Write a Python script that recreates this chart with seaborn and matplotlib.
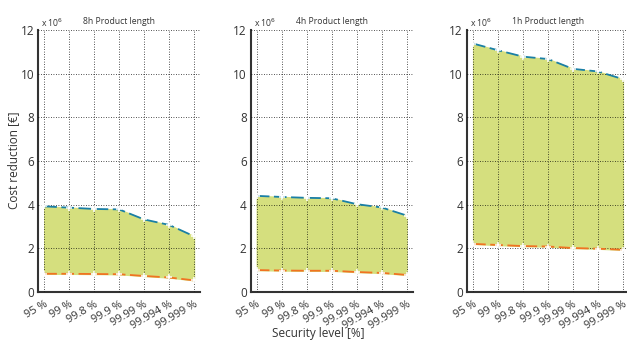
import matplotlib
matplotlib.use("Agg")
import matplotlib.pyplot as plt
import matplotlib.transforms as mtransforms
import seaborn as sns
import numpy as np

levels = ["95 %", "99 %", "99.8 %", "99.9 %", "99.99 %", "99.994 %", "99.999 %"]
titles = ["8h Product length", "4h Product length", "1h Product length"]

# values in 1e6 EUR
upper_8h = [3.92, 3.86, 3.80, 3.78, 3.32, 3.07, 2.55]
lower_8h = [0.83, 0.83, 0.82, 0.81, 0.73, 0.66, 0.53]
upper_4h = [4.40, 4.35, 4.31, 4.29, 4.02, 3.87, 3.50]
lower_4h = [1.00, 0.98, 0.97, 0.97, 0.91, 0.87, 0.78]
upper_1h = [11.38, 11.07, 10.78, 10.67, 10.22, 10.10, 9.75]
lower_1h = [2.20, 2.15, 2.10, 2.08, 2.01, 1.98, 1.93]

uppers = [upper_8h, upper_4h, upper_1h]
lowers = [lower_8h, lower_4h, lower_1h]

sns.set_style("white")
plt.rcParams["font.family"] = ["Open Sans", "DejaVu Sans"]

fig = plt.figure(figsize=(6.27, 3.41), dpi=100)
lefts = [0.061, 0.400, 0.745]
x = np.arange(len(levels))
# nudge rotated tick labels a bit to the right, like the original
shift = mtransforms.ScaledTranslation(5 / 100, 0, fig.dpi_scale_trans)

for i, left in enumerate(lefts):
    ax = fig.add_axes([left, 0.144, 0.258, 0.768])
    ax.fill_between(x, lowers[i], uppers[i], color="#d5df7e", zorder=1)
    sns.lineplot(x=x, y=uppers[i], ax=ax, color="#1a7fa6", lw=1.3, marker="+",
                 markersize=4, markeredgewidth=1.1, dashes=(7, 2.5), zorder=3)
    sns.lineplot(x=x, y=lowers[i], ax=ax, color="#f07322", lw=1.3, marker="+",
                 markersize=4, markeredgewidth=1.1, dashes=(7, 2.5), zorder=3)
    ax.set_xlim(-0.24, 6.24)
    ax.set_ylim(0, 12)
    ax.set_yticks([0, 2, 4, 6, 8, 10, 12])
    ax.set_yticklabels(["0", "2", "4", "6", "8", "10", "12"], fontsize=8.5)
    ax.set_xticks(x)
    ax.set_xticklabels(levels, rotation=30, ha="right", rotation_mode="anchor", fontsize=8)
    for lab in ax.get_xticklabels():
        lab.set_transform(lab.get_transform() + shift)
    ax.grid(True, color="black", linestyle=(0, (1, 2)), linewidth=0.6, alpha=0.9)
    ax.set_axisbelow(False)
    for s in ["top", "right"]:
        ax.spines[s].set_visible(False)
    for s in ["left", "bottom"]:
        ax.spines[s].set_color("#333333")
        ax.spines[s].set_linewidth(1.5)
    ax.tick_params(axis="both", direction="out", length=2, width=0.8, colors="#333333", pad=1)
    ax.tick_params(axis="x", pad=3)
    ax.set_title(titles[i], fontsize=6.2, pad=4, color="#333333")
    ax.text(0.02, 1.005, r"x 10$^6$", transform=ax.transAxes, fontsize=6.2, color="#333333",
            va="bottom", ha="left")

fig.text(14 / 627, 0.53, "Cost reduction [€]", rotation=90, ha="center", va="center",
         fontsize=8.5, color="#333333")
fig.text(318 / 627, 1 - 333 / 341, "Security level [%]", ha="center", va="center",
         fontsize=8.5, color="#333333")

fig.savefig("out.png", dpi=100)
